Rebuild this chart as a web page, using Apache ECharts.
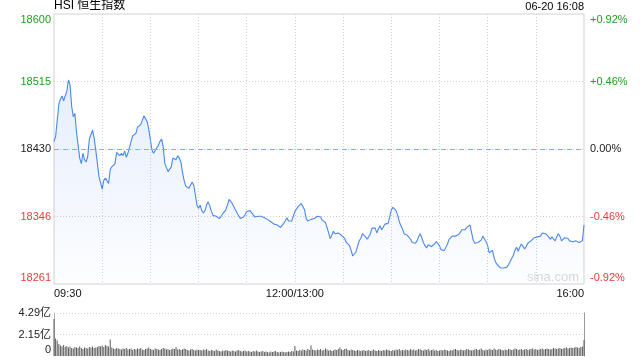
<!DOCTYPE html>
<html>
<head>
<meta charset="utf-8">
<script src="https://cdn.jsdelivr.net/npm/echarts@6/dist/echarts.min.js"></script>
<style>
html,body{margin:0;padding:0;background:#fff;}
#chart{width:640px;height:360px;}
</style>
</head>
<body>
<div id="chart"></div>
<script>
// ---- data ----
const titleText = 'HSI 恒生指数';
const dateText = '06-20 16:08';
const prevClose = 18430.39;
// one price per trading minute: 09:30..12:00 then 13:01..16:00 (331 points)
const prices = [
18440,18446,18466,18487,18493,18497,18491,18492,18503,18517,
18511,18484,18471,18475,18452,18435,18419,18412,18425,18417,
18414,18421,18443,18441,18454,18444,18429,18427,18396,18388,
18380,18391,18394,18392,18387,18405,18408,18409,18412,18426,
18425,18422,18425,18422,18428,18420,18425,18432,18440,18447,
18449,18450,18458,18457,18461,18463,18472,18474,18465,18455,
18442,18429,18425,18427,18432,18435,18440,18443,18433,18412,
18407,18402,18401,18408,18419,18420,18417,18422,18419,18414,
18401,18391,18384,18382,18381,
18385,18389,18385,18373,18360,18356,18360,18353,18350,18353,
18360,18364,18359,18352,18347,18346,18346,18344,18343,18346,
18349,18351,18354,18360,18367,18365,18362,18358,18356,18350,
18352,18343,18343,18345,18348,18352,18353,18353,18351,18348,
18345,18347,18346,18346,18346,18345,18344,18343,18342,18340,
18339,18337,18336,18335,18335,18334,18332,18331,18337,18340,
18344,18340,18340,18340,18341,18352,18355,18358,18359,18362,
18361,18354,18343,18340,18341,18342,18342,18343,18345,18346,
18345,18345,
18341,18340,18338,18332,18325,18318,18322,18327,18324,18324,
18325,18327,18322,18324,18318,18313,18314,18309,18303,18296,
18298,18301,18308,18315,18318,18324,18324,18320,18317,18317,
18324,18331,18332,18331,18325,18330,18334,18329,18331,18336,
18337,18337,18345,18354,18357,18356,18353,18347,18339,18334,
18330,18324,18322,18322,18321,18317,18313,18312,18312,18315,
18320,18324,18319,18313,18309,18306,18310,18308,18308,18310,
18311,18314,18312,18309,18304,18305,18303,18303,18311,18317,
18319,18321,
18320,18321,18320,18323,18326,18329,18331,18329,18332,18334,
18335,18337,18316,18312,18313,18313,18315,18316,18321,18320,
18314,18309,18300,18301,18303,18294,18288,18285,18287,18281,
18279,18281,18280,18282,18285,18289,18290,18297,18303,18307,
18302,18307,18311,18310,18305,18308,18312,18314,18315,18316,
18319,18320,18320,18320,18321,18325,18326,18324,18322,18320,
18317,18320,18318,18315,18320,18324,18321,18315,18316,18319,
18321,18318,18315,18315,18314,18315,18315,18314,18313,18314,
18315,18335
];
// volume per minute, in 亿
const volumes = [
3.70,1.75,1.55,1.20,1.05,0.95,1.10,0.90,1.00,0.85,
0.95,0.80,0.75,0.90,0.85,0.80,0.95,0.80,0.70,0.85,
0.80,0.75,0.90,0.85,0.95,0.80,0.85,0.90,1.00,0.95,
1.05,0.90,1.10,1.00,0.95,1.65,0.85,0.75,0.70,0.80,
0.75,
0.70,0.65,0.75,0.70,0.80,0.65,0.70,0.75,0.60,0.70,
0.65,0.75,0.70,0.80,0.65,0.60,0.70,0.75,0.85,0.70,
0.65,0.60,0.75,0.70,0.65,0.60,0.70,0.80,0.75,0.65,
0.70,0.60,0.65,0.75,0.70,0.90,0.65,0.70,0.60,0.65,
0.75,0.70,0.60,0.55,0.65,0.70,0.60,0.55,0.65,0.60,
0.60,0.55,0.65,0.60,0.70,0.55,0.50,0.60,0.55,0.50,
0.65,0.55,0.50,0.45,0.55,0.50,0.60,0.55,0.50,0.45,
0.55,0.50,0.45,0.55,0.60,0.50,0.45,0.50,0.55,0.45,
0.50,0.45,0.40,0.50,0.45,0.55,0.45,0.40,0.45,0.50,
0.40,0.45,0.40,0.35,0.45,0.40,0.45,0.50,0.40,0.35,
0.40,0.45,0.40,0.35,0.40,0.45,0.40,0.50,0.45,1.00,
0.55,0.50,0.60,0.55,0.65,0.60,0.55,0.70,0.60,1.05,
0.65,0.60,0.55,0.65,0.60,0.70,0.55,0.60,0.75,0.65,
0.55,0.60,0.50,0.55,0.65,0.60,0.70,0.85,0.65,0.60,
0.70,0.75,0.60,0.55,0.65,0.60,0.55,0.50,0.60,0.55,
0.50,0.55,0.60,0.50,0.55,0.60,0.50,0.55,0.65,0.55,
0.50,0.60,0.55,0.50,0.60,0.55,0.65,0.60,0.55,0.50,
0.60,0.55,0.65,0.60,0.70,0.55,0.60,0.55,0.65,0.60,
0.55,0.70,0.60,0.65,0.55,0.60,0.70,0.65,0.60,0.55,
0.65,0.60,0.70,0.55,0.60,0.65,0.55,0.60,0.50,0.55,
0.60,0.55,0.65,0.60,0.55,0.50,0.60,0.55,0.65,0.70,
0.60,0.55,0.65,0.60,0.55,0.60,0.70,0.65,0.60,0.55,
0.60,0.65,0.70,0.60,0.65,0.75,0.60,0.55,0.65,0.60,
0.70,0.65,0.60,0.75,0.65,0.60,0.70,0.65,0.60,0.55,
0.65,0.60,0.70,0.65,0.60,0.65,0.75,0.70,0.60,0.65,
0.70,0.60,0.65,0.70,0.60,0.65,0.70,0.75,0.65,0.70,
0.60,0.65,0.70,0.75,0.65,0.70,0.75,0.70,0.65,0.70,
0.80,0.75,0.70,0.75,0.80,0.70,0.75,0.80,0.85,0.75,
0.80,0.85,0.80,0.85,0.90,0.85,0.80,0.90,0.95,1.60
];
const xTickMinutes = [0, 150, 330];
const xTickLabels = ['09:30', '12:00/13:00', '16:00'];
const volTickLabels = ['0', '2.15亿', '4.29亿'];
const watermark = 'sina.com';

// ---- chart ----
const FONT = 'Arial, "Liberation Sans", "Noto Sans CJK SC", sans-serif';
const GREEN = '#1f9f1f', RED = '#f23a3a', BLACK = '#222';
const LINE = '#4a88ee';

const lineData = prices.map((p, i) => [i, (p / prevClose - 1) * 10000]);
const volData = volumes.map((v, i) => [i, v]);

function colorKey(v) { return v > 0 ? 'g' : (v < 0 ? 'r' : 'k'); }
function wrap(txt, v, idx, last) {
  let k = colorKey(v);
  if (idx === last) k += 't';
  else if (idx === 0) k += 'b';
  return '{' + k + '|' + txt + '}';
}
const richBase = {fontSize: 11, fontFamily: FONT};
const rich = {
  g: Object.assign({color: GREEN}, richBase),
  r: Object.assign({color: RED}, richBase),
  k: Object.assign({color: BLACK}, richBase),
  gt: Object.assign({color: GREEN, padding: [12, 0, 0, 0]}, richBase),
  rt: Object.assign({color: RED, padding: [12, 0, 0, 0]}, richBase),
  kt: Object.assign({color: BLACK, padding: [12, 0, 0, 0]}, richBase),
  gb: Object.assign({color: GREEN, padding: [0, 0, 12, 0]}, richBase),
  rb: Object.assign({color: RED, padding: [0, 0, 12, 0]}, richBase),
  kb: Object.assign({color: BLACK, padding: [0, 0, 12, 0]}, richBase)
};

const xSplitColors = [];
for (let i = 0; i <= 11; i++) xSplitColors.push(i === 0 || i === 11 ? 'rgba(0,0,0,0)' : '#cfcfcf');

const chart = echarts.init(document.getElementById('chart'), null, {renderer: 'canvas'});
chart.setOption({
  animation: false,
  backgroundColor: '#fff',
  textStyle: {fontFamily: FONT},
  title: [
    {text: titleText, left: 54, top: 0, padding: 0,
     textStyle: {fontSize: 12, fontWeight: 'normal', color: '#000', fontFamily: FONT}},
    {text: dateText, right: 56, top: 1, padding: 0,
     textStyle: {fontSize: 11, fontWeight: 'normal', color: '#000', fontFamily: FONT}}
  ],
  graphic: [
    {type: 'text', right: 61, top: 271, silent: true,
     style: {text: watermark, fill: '#d9d9d9', fontSize: 13, fontFamily: FONT}}
  ],
  grid: [
    {left: 54, right: 56, top: 14, bottom: 76, show: true, borderColor: '#d2d2d2', borderWidth: 1},
    {left: 54, right: 56, top: 313, bottom: 4}
  ],
  xAxis: [
    {type: 'value', gridIndex: 0, min: 0, max: 330, interval: 30,
     axisLine: {show: false}, axisTick: {show: false},
     axisLabel: {
       show: true, margin: 4, fontSize: 11, color: '#111', fontFamily: FONT,
       showMinLabel: true, showMaxLabel: true,
       alignMinLabel: 'left', alignMaxLabel: 'right',
       formatter: function (v) {
         const k = xTickMinutes.indexOf(v);
         return k >= 0 ? xTickLabels[k] : '';
       }
     },
     splitLine: {show: true, lineStyle: {color: xSplitColors, type: [1, 2], width: 1}}
    },
    {type: 'value', gridIndex: 1, min: 0, max: 330, show: false}
  ],
  yAxis: [
    {type: 'value', gridIndex: 0, position: 'left', min: -92, max: 92, interval: 46,
     axisLine: {show: false}, axisTick: {show: false},
     axisLabel: {
       margin: 3, fontSize: 11, fontFamily: FONT, rich: rich,
       formatter: function (v, idx) {
         return wrap(String(Math.round(prevClose * (1 + v / 10000))), v, idx, 4);
       }
     },
     splitLine: {show: true, lineStyle: {
       color: ['rgba(0,0,0,0)', '#cfcfcf', '#cfcfcf', '#cfcfcf', 'rgba(0,0,0,0)'],
       type: [1, 2], width: 1}}
    },
    {type: 'value', gridIndex: 0, position: 'right', min: -92, max: 92, interval: 46,
     axisLine: {show: false}, axisTick: {show: false},
     axisLabel: {
       margin: 6, fontSize: 11, fontFamily: FONT, rich: rich,
       formatter: function (v, idx) {
         const s = (v > 0 ? '+' : '') + (v / 100).toFixed(2) + '%';
         return wrap(s, v, idx, 4);
       }
     },
     splitLine: {show: false}
    },
    {type: 'value', gridIndex: 1, position: 'left', min: 0, max: 4.29, interval: 2.145,
     axisLine: {show: true, lineStyle: {color: '#b5b5b5'}}, axisTick: {show: false},
     axisLabel: {
       margin: 3, fontSize: 11, color: '#222', fontFamily: FONT,
       rich: {b: {fontSize: 11, fontFamily: FONT, color: '#222', padding: [0, 0, 12, 0]},
              m: {fontSize: 11, fontFamily: FONT, color: '#222'}},
       formatter: function (v, idx) {
         return idx === 0 ? '{b|' + volTickLabels[0] + '}' : '{m|' + volTickLabels[idx] + '}';
       }
     },
     splitLine: {show: true, lineStyle: {color: ['rgba(0,0,0,0)', '#cfcfcf', '#cfcfcf'], type: [1, 2], width: 1}}
    },
    {type: 'value', gridIndex: 1, position: 'right', min: 0, max: 4.29,
     axisLine: {show: true, lineStyle: {color: '#9a9a9a'}}, axisTick: {show: false},
     axisLabel: {show: false}, splitLine: {show: false}
    }
  ],
  series: [
    {type: 'line', xAxisIndex: 0, yAxisIndex: 0, data: lineData,
     showSymbol: false, symbol: 'none', smooth: false,
     lineStyle: {color: LINE, width: 1.1},
     areaStyle: {origin: 'start', color: new echarts.graphic.LinearGradient(0, 0, 0, 1, [
       {offset: 0, color: 'rgba(74,136,238,0.20)'},
       {offset: 1, color: 'rgba(74,136,238,0.02)'}
     ])},
     markLine: {silent: true, symbol: 'none', label: {show: false},
       lineStyle: {color: '#f0965a', type: [5, 4], width: 1, opacity: 1},
       data: [{yAxis: 0}]},
     z: 3
    },
    {type: 'bar', xAxisIndex: 1, yAxisIndex: 2, data: volData,
     barWidth: 1, itemStyle: {color: '#5a5a5a'}}
  ]
});
</script>
</body>
</html>
